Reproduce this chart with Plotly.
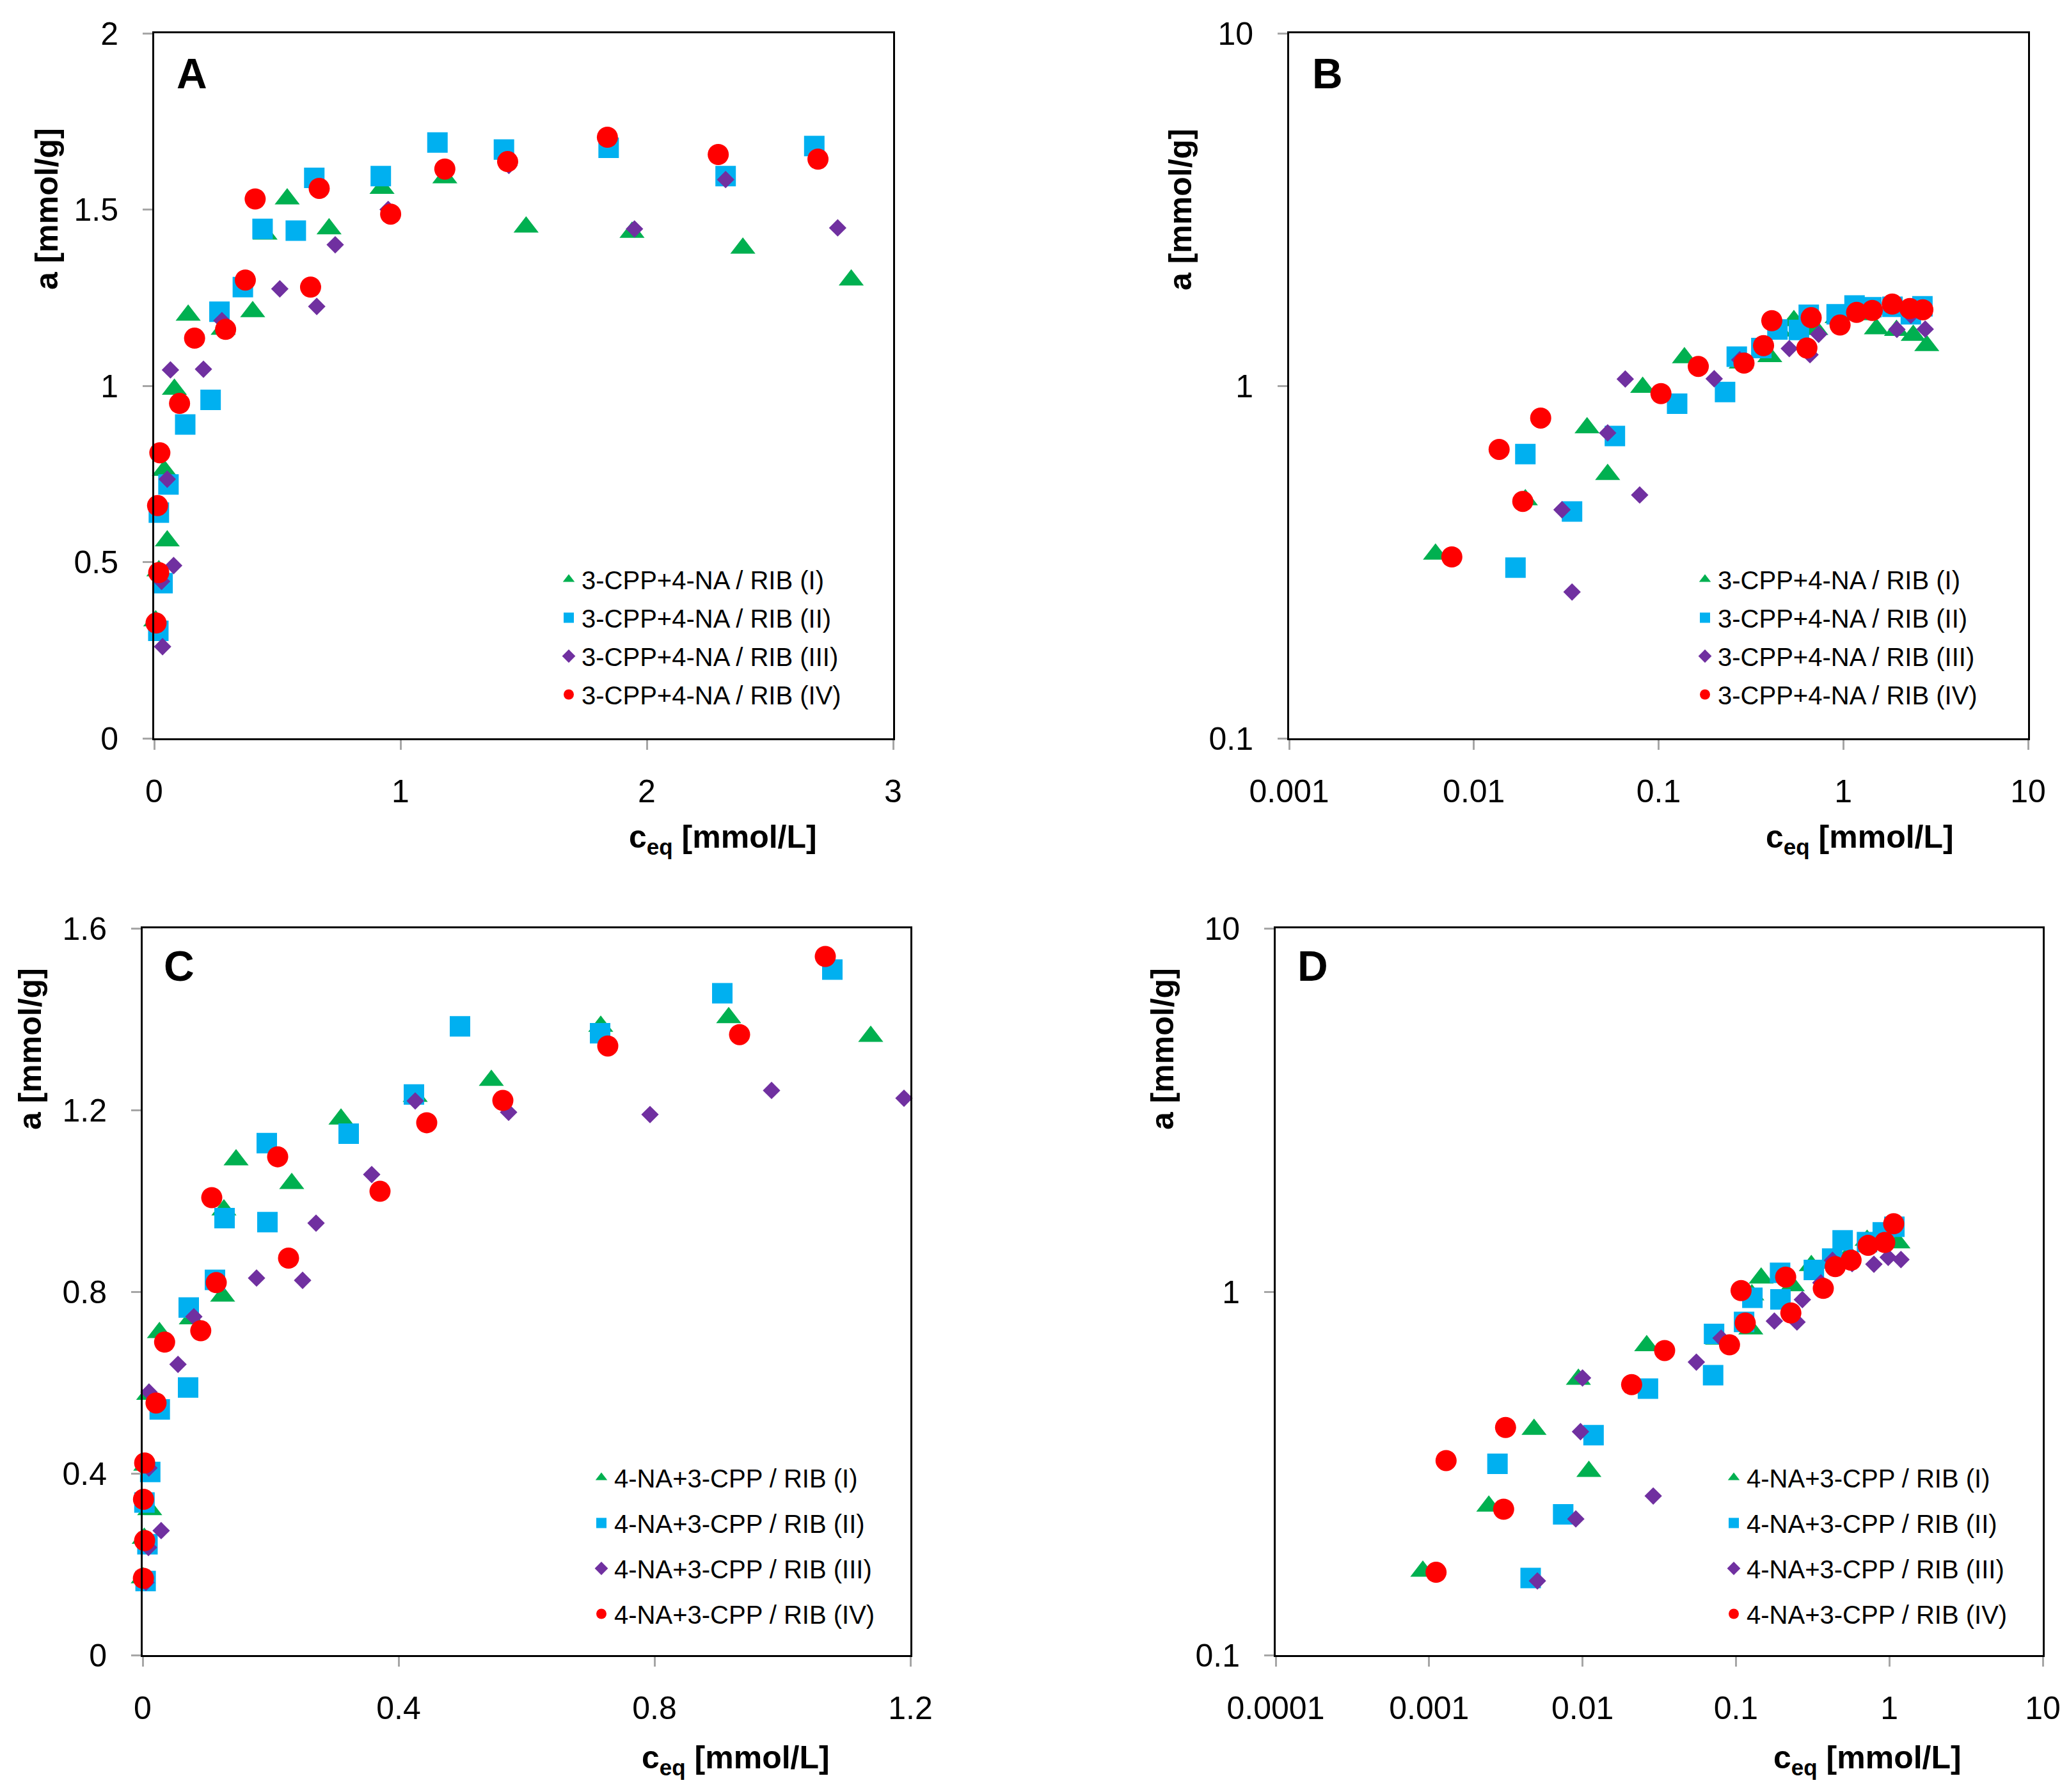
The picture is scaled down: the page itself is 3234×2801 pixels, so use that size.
import plotly.graph_objects as go

W, H = 3234, 2801
SHIFT = 8  # page body margin offsets the figure by this many pixels

# ---- data: 3-CPP+4-NA / RIB (panels A and B) ----
a_names = ['3-CPP+4-NA / RIB (I)', '3-CPP+4-NA / RIB (II)',
           '3-CPP+4-NA / RIB (III)', '3-CPP+4-NA / RIB (IV)']
a1_x = [0.0062, 0.019, 0.041, 0.053, 0.082, 0.138, 0.28, 0.40, 0.45, 0.54, 0.71, 0.925, 1.18, 1.51, 1.94, 2.39, 2.83]
a1_y = [0.333, 0.475, 0.76, 0.56, 0.99, 1.20, 1.16, 1.21, 1.43, 1.53, 1.445, 1.56, 1.59, 1.45, 1.435, 1.39, 1.30]
a2_x = [0.0168, 0.019, 0.034, 0.058, 0.126, 0.229, 0.265, 0.36, 0.44, 0.575, 0.65, 0.92, 1.15, 1.42, 1.845, 2.32, 2.68]
a2_y = [0.305, 0.64, 0.44, 0.72, 0.89, 0.96, 1.21, 1.28, 1.445, 1.44, 1.59, 1.595, 1.69, 1.67, 1.675, 1.595, 1.68]
a3_x = [0.030, 0.034, 0.053, 0.066, 0.079, 0.20, 0.275, 0.51, 0.66, 0.735, 0.95, 1.44, 1.95, 2.32, 2.775]
a3_y = [0.445, 0.26, 0.735, 1.045, 0.49, 1.047, 1.185, 1.275, 1.225, 1.40, 1.50, 1.625, 1.445, 1.585, 1.448]
a4_x = [0.0076, 0.0137, 0.0184, 0.023, 0.103, 0.164, 0.29, 0.37, 0.41, 0.635, 0.67, 0.96, 1.18, 1.435, 1.84, 2.29, 2.695]
a4_y = [0.327, 0.66, 0.47, 0.81, 0.95, 1.135, 1.16, 1.30, 1.53, 1.28, 1.56, 1.487, 1.615, 1.636, 1.705, 1.656, 1.643]

# ---- data: 4-NA+3-CPP / RIB (panels C and D) ----
c_names = ['4-NA+3-CPP / RIB (I)', '4-NA+3-CPP / RIB (II)',
           '4-NA+3-CPP / RIB (III)', '4-NA+3-CPP / RIB (IV)']
c1_x = [0.00091, 0.00245, 0.00483, 0.0094, 0.011, 0.0262, 0.076, 0.125, 0.127, 0.146, 0.233, 0.31, 0.426, 0.545, 0.716, 0.916, 1.138]
c1_y = [0.170, 0.257, 0.418, 0.574, 0.32, 0.71, 0.74, 0.79, 0.98, 1.09, 1.038, 1.18, 1.23, 1.265, 1.384, 1.403, 1.362]
c2_x = [0.00279, 0.00459, 0.00748, 0.0118, 0.0267, 0.071, 0.072, 0.113, 0.128, 0.195, 0.194, 0.322, 0.424, 0.496, 0.715, 0.906, 1.078]
c2_y = [0.336, 0.163, 0.244, 0.403, 0.541, 0.589, 0.765, 0.826, 0.962, 0.953, 1.127, 1.148, 1.234, 1.384, 1.369, 1.457, 1.509]
c3_x = [0.00508, 0.00904, 0.0097, 0.0100, 0.0289, 0.0552, 0.080, 0.178, 0.25, 0.271, 0.358, 0.426, 0.572, 0.793, 0.983, 1.19]
c3_y = [0.16, 0.237, 0.412, 0.579, 0.274, 0.64, 0.745, 0.83, 0.825, 0.951, 1.058, 1.22, 1.195, 1.19, 1.243, 1.226]
c4_x = [0.00111, 0.00129, 0.00306, 0.00315, 0.0209, 0.0343, 0.0908, 0.108, 0.115, 0.211, 0.228, 0.371, 0.444, 0.563, 0.727, 0.933, 1.067]
c4_y = [0.169, 0.343, 0.252, 0.423, 0.555, 0.689, 0.714, 1.007, 0.82, 1.097, 0.874, 1.021, 1.172, 1.221, 1.341, 1.366, 1.538]

log_b_x = [0.001, 0.01, 0.1, 1, 10]
log_d_x = [0.0001, 0.001, 0.01, 0.1, 1, 10]
log_y = [0.1, 1, 10]

colors = ['#00B050', '#00B0F0', '#7030A0', '#FF0000']
symbols = ['triangle-up', 'square', 'diamond', 'circle']
sizes = [34, 32, 21, 33]

FONT = 'Liberation Sans, Arial, sans-serif'

def px_x(v):
    return (v - SHIFT) / W

def px_y(v):
    return 1 - (v - SHIFT) / H

fig = go.Figure()

panels = [
    # axis suffix, legend name, names, series
    ('', 'legend', a_names, [(a1_x, a1_y), (a2_x, a2_y), (a3_x, a3_y), (a4_x, a4_y)]),
    ('2', 'legend2', a_names, [(a1_x, a1_y), (a2_x, a2_y), (a3_x, a3_y), (a4_x, a4_y)]),
    ('3', 'legend3', c_names, [(c1_x, c1_y), (c2_x, c2_y), (c3_x, c3_y), (c4_x, c4_y)]),
    ('4', 'legend4', c_names, [(c1_x, c1_y), (c2_x, c2_y), (c3_x, c3_y), (c4_x, c4_y)]),
]

for suffix, leg, names, series in panels:
    for i, (xs, ys) in enumerate(series):
        fig.add_trace(go.Scatter(
            x=xs, y=ys, mode='markers', name=names[i],
            xaxis='x' + suffix, yaxis='y' + suffix,
            legend=leg, legendgroup=leg + str(i),
            cliponaxis=False,
            marker=dict(symbol=symbols[i], size=sizes[i], color=colors[i], line=dict(width=0)),
        ))

axis_common = dict(
    showline=True, mirror=True, linecolor='black', linewidth=3,
    ticks='outside', ticklen=15, tickwidth=3, tickcolor='#A6A6A6',
    showgrid=False, zeroline=False, automargin=False,
    tickfont=dict(family=FONT, size=50, color='black'),
)

# pixel boxes of the four plot areas: (left, right, top, bottom)
boxes = {
    '': (241, 1396, 52, 1154),
    '2': (2015, 3170, 52, 1154),
    '3': (223, 1423, 1451, 2587),
    '4': (1994, 3193, 1451, 2587),
}

layout = dict(
    width=W, height=H, autosize=False,
    margin=dict(l=0, r=0, t=0, b=0, autoexpand=False),
    paper_bgcolor='white', plot_bgcolor='white',
    font=dict(family=FONT, color='black'),
)

for suffix, (l, r, t, b) in boxes.items():
    xd = [px_x(l), px_x(r)]
    yd = [px_y(b), px_y(t)]
    xa = dict(axis_common, domain=xd, anchor='y' + suffix, ticklabelstandoff=22)
    ya = dict(axis_common, domain=yd, anchor='x' + suffix, ticklabelstandoff=28)
    if suffix == '':
        xa.update(range=[0, 3], dtick=1, tick0=0)
        ya.update(range=[0, 2], dtick=0.5, tick0=0)
    elif suffix == '2':
        xa.update(type='log', range=[-3, 1], tickvals=log_b_x, ticktext=[str(v) for v in log_b_x])
        ya.update(type='log', range=[-1, 1], tickvals=log_y, ticktext=[str(v) for v in log_y])
    elif suffix == '3':
        xa.update(range=[0, 1.2], dtick=0.4, tick0=0)
        ya.update(range=[0, 1.6], dtick=0.4, tick0=0)
    else:
        xa.update(type='log', range=[-4, 1], tickvals=log_d_x, ticktext=[str(v) for v in log_d_x])
        ya.update(type='log', range=[-1, 1], tickvals=log_y, ticktext=[str(v) for v in log_y])
    layout['xaxis' + suffix] = xa
    layout['yaxis' + suffix] = ya

# legend left edge, top edge (px), gap between entries
legend_pos = {
    'legend': (869, 873, 5),
    'legend2': (2645, 873, 5),
    'legend3': (920, 2277, 16),
    'legend4': (2690, 2277, 16),
}
for name, (lx, ly, gap) in legend_pos.items():
    layout[name] = dict(
        x=px_x(lx), y=px_y(ly), xanchor='left', yanchor='top',
        bgcolor='rgba(0,0,0,0)', borderwidth=0,
        font=dict(family=FONT, size=40, color='black'),
        tracegroupgap=gap, itemsizing='trace',
    )

fig.update_layout(**layout)

ytitle = '<b>a [mmol/g]</b>'
xtitle = '<b>c<sub>eq</sub> [mmol/L]</b>'
annots = [
    # text, x px, y px, angle, size
    (ytitle, 73, 327, -90, 50),
    (ytitle, 1845, 327, -90, 50),
    (ytitle, 47, 1640, -90, 50),
    (ytitle, 1817, 1640, -90, 50),
    (xtitle, 1130, 1312, 0, 50),
    (xtitle, 2907, 1312, 0, 50),
    (xtitle, 1150, 2750, 0, 50),
    (xtitle, 2919, 2750, 0, 50),
    ('<b>A</b>', 300, 115, 0, 66),
    ('<b>B</b>', 2075, 115, 0, 66),
    ('<b>C</b>', 280, 1510, 0, 66),
    ('<b>D</b>', 2052, 1510, 0, 66),
]
for text, ax_, ay_, ang, fs in annots:
    fig.add_annotation(
        text=text, x=px_x(ax_), y=px_y(ay_), xref='paper', yref='paper',
        xanchor='center', yanchor='middle', textangle=ang, showarrow=False,
        font=dict(family=FONT, size=fs, color='black'),
    )

fig.write_html('out.html')
